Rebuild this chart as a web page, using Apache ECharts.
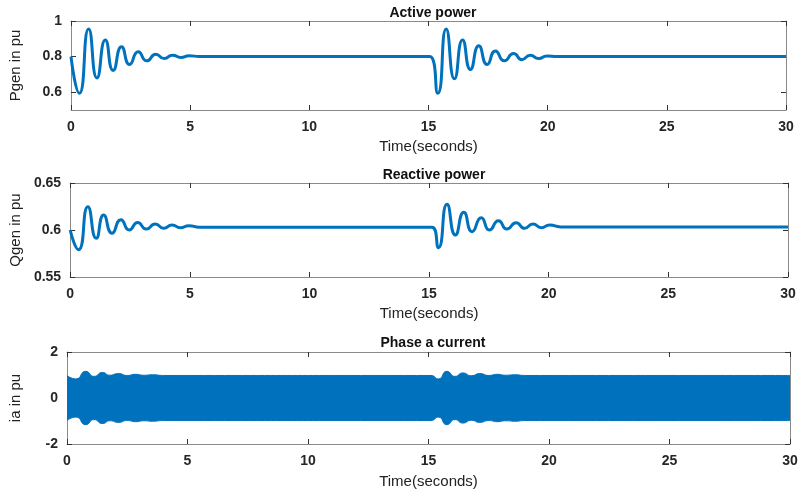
<!DOCTYPE html>
<html>
<head>
<meta charset="utf-8">
<script src="https://cdn.jsdelivr.net/npm/echarts@6/dist/echarts.min.js"></script>
<style>html,body{margin:0;padding:0;background:#fff}#c{width:803px;height:492px}</style>
</head>
<body>
<div id="c"></div>
<script>
// ---- data ----
var titles = ['Active power', 'Reactive power', 'Phase a current'];
var yNames = ['Pgen in pu', 'Qgen in pu', 'ia in pu'];
var xName = 'Time(seconds)';
var xTicks = [0, 5, 10, 15, 20, 25, 30];

// Active power (time s, pu) - extrema
var pTime = [0, 0.35, 0.74, 1.09, 1.44, 1.77, 2.12, 2.46, 2.82, 3.18, 3.56, 3.91, 4.26, 4.61, 4.96, 5.4, 15.05,
             15.39, 15.74, 16.09, 16.43, 16.76, 17.11, 17.46, 17.81, 18.18, 18.57, 18.92, 19.27, 19.62, 19.97, 20.4, 30];
var pVal  = [0.80, 0.594, 0.955, 0.68, 0.893, 0.722, 0.855, 0.756, 0.827, 0.776, 0.813, 0.789, 0.808, 0.795, 0.805, 0.80, 0.80,
             0.594, 0.955, 0.675, 0.893, 0.728, 0.861, 0.756, 0.832, 0.776, 0.817, 0.783, 0.808, 0.789, 0.804, 0.80, 0.80];
var pTicks = [0.6, 0.8, 1];

// Reactive power
var qTime = [0, 0.35, 0.74, 1.09, 1.40, 1.75, 2.12, 2.47, 2.82, 3.18, 3.56, 3.91, 4.26, 4.61, 4.96, 5.4, 15.12,
             15.39, 15.75, 16.10, 16.45, 16.80, 17.18, 17.52, 17.90, 18.25, 18.64, 18.99, 19.34, 19.69, 20.04, 20.5, 30];
var qVal  = [0.600, 0.579, 0.6248, 0.5912, 0.616, 0.5965, 0.611, 0.600, 0.608, 0.601, 0.6064, 0.6018, 0.6053, 0.6025, 0.6046, 0.6029, 0.6029,
             0.5812, 0.6273, 0.5947, 0.6188, 0.5982, 0.613, 0.600, 0.6099, 0.601, 0.6078, 0.6018, 0.6064, 0.6025, 0.6053, 0.6033, 0.6033];
var qTicks = [0.55, 0.6, 0.65];

// Phase a current envelope (upper and lower edges of the dense sinusoid band)
var iTime  = [0, 0.37, 0.78, 1.12, 1.47, 1.78, 2.13, 2.5, 2.85, 3.2, 3.55, 4.0, 15.1,
              15.41, 15.76, 16.10, 16.42, 16.78, 17.13, 17.5, 17.85, 18.2, 18.6, 19.0, 30];
var iUpper = [0.98, 0.83, 1.16, 0.94, 1.11, 0.99, 1.06, 0.98, 1.03, 0.99, 1.01, 0.98, 0.98,
              0.83, 1.16, 0.94, 1.09, 0.97, 1.06, 0.98, 1.03, 0.99, 1.01, 0.98, 0.98];
var iLower = [-0.98, -0.83, -1.16, -0.94, -1.11, -0.99, -1.06, -0.98, -1.03, -0.99, -1.01, -0.98, -0.98,
              -0.83, -1.16, -0.94, -1.09, -0.97, -1.06, -0.98, -1.03, -0.99, -1.01, -0.98, -0.98];
var iTicks = [-2, 0, 2];

function pairs(t, v) { return t.map(function (x, k) { return [x, v[k]]; }); }

var BLUE = '#0072BD';
var AX = '#8a8a8a';
var FONT = 'Liberation Sans';

var grids = [
  { left: 70, right: 17, top: 21, height: 89 },
  { left: 70, right: 15, top: 183, height: 94 },
  { left: 67, right: 13, top: 352, height: 92 }
];
var yRanges = [[0.5, 1, pTicks], [0.55, 0.65, qTicks], [-2, 2, iTicks]];
var nameGapsX = [29, 29, 30];
var yNameGap = [48, 43, 44];

var xAxes = [], yAxes = [];
grids.forEach(function (g, i) {
  xAxes.push({
    type: 'value', gridIndex: i, min: 0, max: 30, position: 'bottom',
    name: xName, nameLocation: 'middle', nameGap: nameGapsX[i],
    nameTextStyle: { fontFamily: FONT, fontSize: 15, color: '#222' },
    axisLine: { show: true, onZero: false, lineStyle: { color: AX } },
    axisTick: { show: true, inside: true, length: 5, lineStyle: { color: '#333' }, customValues: xTicks },
    axisLabel: { customValues: xTicks, margin: 10, fontFamily: FONT, fontSize: 14, fontWeight: 'bold', color: '#262626' },
    splitLine: { show: false }
  });
  xAxes.push({
    type: 'value', gridIndex: i, min: 0, max: 30, position: 'top',
    axisLine: { show: true, onZero: false, lineStyle: { color: AX } },
    axisTick: { show: true, inside: true, length: 5, lineStyle: { color: '#333' }, customValues: xTicks },
    axisLabel: { show: false }, splitLine: { show: false }
  });
  var r = yRanges[i];
  yAxes.push({
    type: 'value', gridIndex: i, min: r[0], max: r[1], position: 'left',
    name: yNames[i], nameLocation: 'middle', nameGap: yNameGap[i],
    nameTextStyle: { fontFamily: FONT, fontSize: 15, color: '#222' },
    axisLine: { show: true, onZero: false, lineStyle: { color: AX } },
    axisTick: { show: true, inside: true, length: 5, lineStyle: { color: '#333' }, customValues: r[2] },
    axisLabel: { customValues: r[2], margin: 9, fontFamily: FONT, fontSize: 14, fontWeight: 'bold', color: '#262626' },
    splitLine: { show: false }
  });
  yAxes.push({
    type: 'value', gridIndex: i, min: r[0], max: r[1], position: 'right',
    axisLine: { show: true, onZero: false, lineStyle: { color: AX } },
    axisTick: { show: true, inside: true, length: 5, lineStyle: { color: '#333' }, customValues: r[2] },
    axisLabel: { show: false }, splitLine: { show: false }
  });
});

var titleCenters = [428, 429, 428];
var titleTops = [1, 163, 331];

var option = {
  animation: false,
  backgroundColor: '#fff',
  title: titles.map(function (t, i) {
    return { text: t, left: titleCenters[i], top: titleTops[i], textAlign: 'center',
      textStyle: { fontFamily: FONT, fontSize: 14, fontWeight: 'bold', color: '#111' } };
  }),
  grid: grids,
  xAxis: xAxes,
  yAxis: yAxes,
  series: [
    { type: 'line', xAxisIndex: 0, yAxisIndex: 0, data: pairs(pTime, pVal), smooth: 0.6,
      showSymbol: false, lineStyle: { color: BLUE, width: 3 } },
    { type: 'line', xAxisIndex: 2, yAxisIndex: 2, data: pairs(qTime, qVal), smooth: 0.6,
      showSymbol: false, lineStyle: { color: BLUE, width: 3 } },
    { type: 'line', xAxisIndex: 4, yAxisIndex: 4, data: pairs(iTime, iUpper), smooth: 0.6,
      showSymbol: false, lineStyle: { color: BLUE, width: 1 }, areaStyle: { color: BLUE, opacity: 1, origin: 0 } },
    { type: 'line', xAxisIndex: 4, yAxisIndex: 4, data: pairs(iTime, iLower), smooth: 0.6,
      showSymbol: false, lineStyle: { color: BLUE, width: 1 }, areaStyle: { color: BLUE, opacity: 1, origin: 0 } }
  ]
};
var chart = echarts.init(document.getElementById('c'), null, { renderer: 'canvas' });
chart.setOption(option);
</script>
</body>
</html>
